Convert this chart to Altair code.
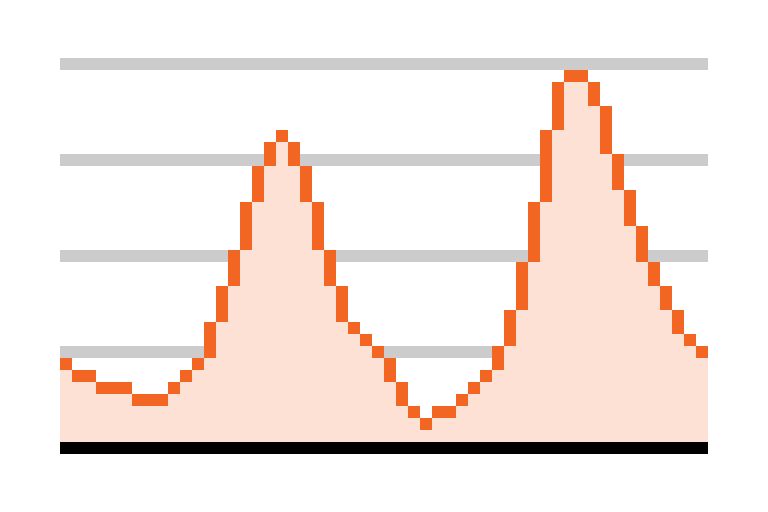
import altair as alt
import pandas as pd

# One value per column (in row units above the baseline)
values = [6, 5, 5, 4, 4, 4, 3, 3, 3, 4, 5, 6, 9, 12, 15, 19, 22, 24, 25, 23,
          20, 16, 13, 10, 9, 8, 7, 5, 3, 2, 1, 2, 2, 3, 4, 5, 7, 10, 14, 19,
          25, 29, 30, 30, 28, 24, 21, 18, 15, 13, 11, 9, 8, 7]
grid_levels = [7, 15, 23, 31]

n = len(values)
rows = []
for i, v in enumerate(values):
    prev = values[i - 1] if i > 0 else v
    if v > prev:
        lo, hi = prev + 1, v
    elif v < prev:
        lo, hi = v, prev - 1
    else:
        lo, hi = v, v
    rows.append({"x": i, "x2": i + 1, "lo": lo, "hi": hi + 1, "zero": 0})
df = pd.DataFrame(rows)

grid_df = pd.DataFrame({"y": grid_levels, "y2": [g + 1 for g in grid_levels],
                        "x": [0] * len(grid_levels), "x2": [n] * len(grid_levels)})
base_df = pd.DataFrame({"y": [-1], "y2": [0], "x": [0], "x2": [n]})

xs = alt.Scale(domain=[0, n], nice=False, zero=False)
ys = alt.Scale(domain=[-1, 36], nice=False, zero=False)
X = lambda f: alt.X(f, type="quantitative", scale=xs, axis=None)
Y = lambda f: alt.Y(f, type="quantitative", scale=ys, axis=None)

grid = alt.Chart(grid_df).mark_rect(color="#CCCCCC", strokeWidth=0).encode(
    x=X("x"), x2="x2", y=Y("y"), y2="y2")
fill = alt.Chart(df).mark_rect(color="#FCE1D4", strokeWidth=0).encode(
    x=X("x"), x2="x2", y=Y("zero"), y2="lo")
line = alt.Chart(df).mark_rect(color="#F26522", strokeWidth=0).encode(
    x=X("x"), x2="x2", y=Y("lo"), y2="hi")
base = alt.Chart(base_df).mark_rect(color="#000000", strokeWidth=0).encode(
    x=X("x"), x2="x2", y=Y("y"), y2="y2")

chart = alt.layer(grid, fill, line, base).properties(
    width=648, height=444,
    autosize=alt.AutoSizeParams(type="none"),
    padding={"left": 52, "top": 2, "right": 52, "bottom": 50},
).configure_view(strokeWidth=0)

chart.save("out.html", embed_options={"renderer": "svg", "actions": False})
